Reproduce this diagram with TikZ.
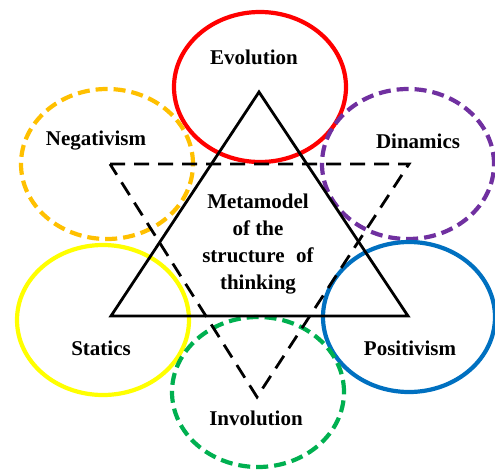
\documentclass[tikz,border=0pt]{standalone}
\usepackage{fontspec}
\setmainfont{Liberation Serif}
\usetikzlibrary{shapes.geometric}

\definecolor{evored}{RGB}{255,0,0}
\definecolor{neggold}{RGB}{255,192,0}
\definecolor{dinpurple}{RGB}{112,48,160}
\definecolor{statyellow}{RGB}{255,255,0}
\definecolor{posblue}{RGB}{0,112,192}
\definecolor{invgreen}{RGB}{0,176,80}

\begin{document}
\begin{tikzpicture}[x=1pt,y=-1pt]
  \useasboundingbox (0,0) rectangle (495,469);
  \tikzstyle{Ring}=[ellipse,draw,line width=4.2pt,inner sep=0pt,
                    minimum width=172pt,minimum height=150pt]
  \tikzstyle{DashRing}=[Ring,dash pattern=on 12pt off 6pt]
  \tikzstyle{LabelStyle}=[font=\fontsize{21}{27}\selectfont\bfseries,inner sep=0pt]
  \tikzstyle{EdgeStyle}=[line width=2.8pt,line join=miter]

  \node[Ring,draw=evored]          (evo)  at (260,87)  {};
  \node[DashRing,draw=neggold]     (neg)  at (107,164) {};
  \node[DashRing,draw=dinpurple]   (din)  at (408,164) {};
  \node[Ring,draw=statyellow]      (stat) at (103,320) {};
  \node[Ring,draw=posblue]         (pos)  at (409,317) {};
  \node[DashRing,draw=invgreen]    (inv)  at (258,392) {};

  \coordinate (up)    at (259,92);
  \coordinate (upl)   at (111,316);
  \coordinate (upr)   at (408,316);
  \coordinate (downl) at (110,164);
  \coordinate (downr) at (409,164);
  \coordinate (down)  at (257,397);

  \draw[EdgeStyle] (up) -- (upr) -- (upl) -- cycle;
  \draw[EdgeStyle,dash pattern=on 15pt off 9pt] (downl) -- (downr) -- (down) -- cycle;

  \node[LabelStyle] (evolab)  at (254,57)  {Evolution};
  \node[LabelStyle] (neglab)  at (96,141)  {Negativism};
  \node[LabelStyle] (dinlab)  at (418,141) {Dinamics};
  \node[LabelStyle] (statlab) at (101,348) {Statics};
  \node[LabelStyle] (poslab)  at (410,348) {Positivism};
  \node[LabelStyle] (invlab)  at (256,418) {Involution};
  \node[LabelStyle,align=center] (meta) at (258,244)
    {Metamodel\\of the\\structure\hspace{0.3em} of\\thinking};
\end{tikzpicture}
\end{document}
